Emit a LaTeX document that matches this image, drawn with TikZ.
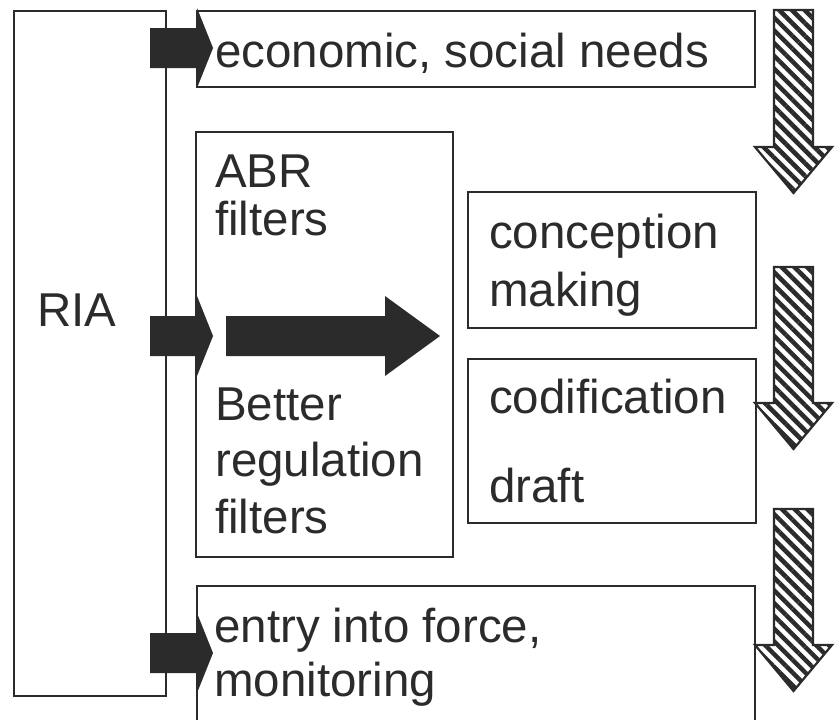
\documentclass[tikz,border=0pt]{standalone}
\usepackage{fontspec}
\setmainfont{Liberation Sans}
\usetikzlibrary{patterns.meta,fit}
\definecolor{ink}{HTML}{2B2B2B}
\newcommand\myhatcharrow[4]{%
  \draw[hatcharrow] (774,#2) -- (813,#2) -- (813,#3) -- (832,#3) -- (793.5,#4) -- (755,#3) -- (774,#3) -- cycle;
  \coordinate (#1) at (793.5,#4);}
\begin{document}
\begin{tikzpicture}[x=1pt,y=-1pt,
  box/.style={draw=ink,line width=2.2pt,inner sep=0pt},
  lbl/.style={anchor=base west,inner sep=0pt,font=\fontsize{47.5}{56}\selectfont,text=ink},
  blockarrow/.style={fill=ink,draw=none},
  hatcharrow/.style={draw=ink,line width=2.2pt,pattern={Lines[angle=-45,distance=9pt,line width=4.5pt]},pattern color=ink}]
\fill[white] (0,0) rectangle (839,720);
\clip (0,0) rectangle (839,720);
% boxes
\node[box,fit={(14,11) (166,696)}] (ria) {};
\node[box,fit={(197,11) (755,87)}] (needs) {};
\node[box,fit={(196,132) (453,557)}] (filt) {};
\node[box,fit={(468,192) (756,328)}] (conc) {};
\node[box,fit={(468,359) (756,523)}] (cod) {};
\node[box,fit={(197,586) (755,740)}] (entry) {};
% texts
\node[lbl] (tria) at (37,326) {RIA};
\node[lbl] (tneeds) at (215,67) {economic, social needs};
\node[lbl] (tabr) at (215,187) {ABR};
\node[lbl] (tfilt1) at (215,235) {filters};
\node[lbl] (tbetter) at (215,420) {Better};
\node[lbl] (treg) at (215,476) {regulation};
\node[lbl] (tfilt2) at (215,533) {filters};
\node[lbl] (tconc) at (489,248) {conception};
\node[lbl] (tmak) at (489,306) {making};
\node[lbl] (tcod) at (489,413) {codification};
\node[lbl] (tdraft) at (489,502) {draft};
\node[lbl] (tentry) at (214,642) {entry into force,};
\node[lbl] (tmon) at (214,696) {monitoring};
% block arrows from RIA
\fill[blockarrow] (150,28) -- (197,28) -- (197,8) -- (213,48) -- (197,88) -- (197,68) -- (150,68) -- cycle;
\fill[blockarrow] (150,316) -- (197,316) -- (197,296) -- (213,336) -- (197,376) -- (197,356) -- (150,356) -- cycle;
\fill[blockarrow] (150,633) -- (197,633) -- (197,613) -- (213,653) -- (197,693) -- (197,673) -- (150,673) -- cycle;
% big arrow through filters
\fill[blockarrow] (226,316) -- (385,316) -- (385,296) -- (440,336) -- (385,376) -- (385,356) -- (226,356) -- cycle;
% hatched arrows
\myhatcharrow{h1}{10}{147}{193}
\myhatcharrow{h2}{267}{403}{449}
\myhatcharrow{h3}{509}{645}{691}
\end{tikzpicture}
\end{document}
